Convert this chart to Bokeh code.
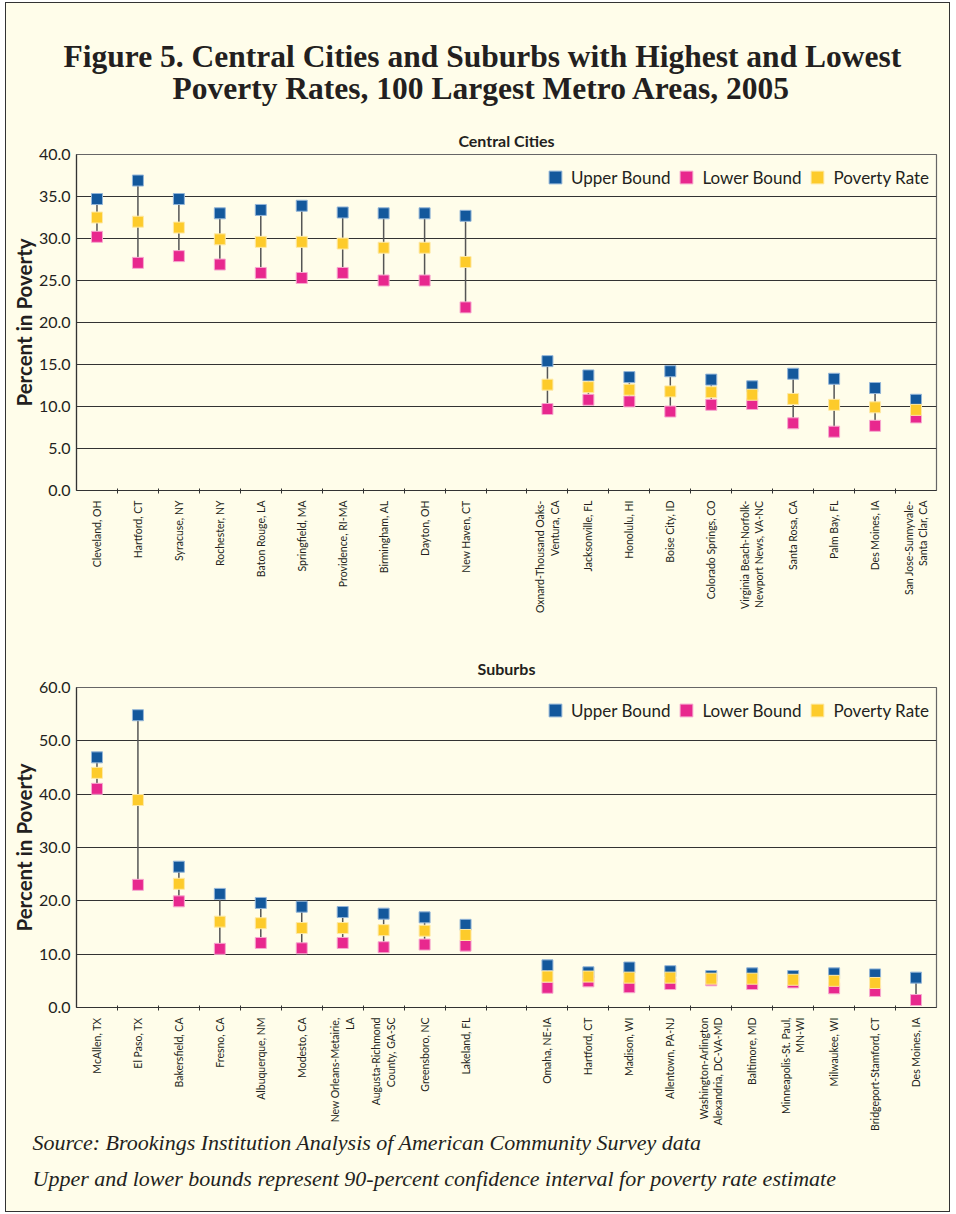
import math
import numpy as np
from bokeh.plotting import figure
from bokeh.models import (Range1d, FixedTicker, SingleIntervalTicker, NumeralTickFormatter,
                          ColumnDataSource, Legend, LegendItem, Title)
from bokeh.layouts import column
from bokeh.embed import file_html
from bokeh.resources import INLINE

# ---------------- data ----------------
TITLE_LINES = ["Figure 5. Central Cities and Suburbs with Highest and Lowest",
               "Poverty Rates, 100 Largest Metro Areas, 2005"]
FOOTNOTES = ["Source: Brookings Institution Analysis of American Community Survey data",
             "Upper and lower bounds represent 90-percent confidence interval for poverty rate estimate"]
SERIES = ["Upper Bound", "Lower Bound", "Poverty Rate"]
Y_LABEL = "Percent in Poverty"

CC_TITLE = "Central Cities"
CC_NAMES = ["Cleveland, OH", "Hartford, CT", "Syracuse, NY", "Rochester, NY", "Baton Rouge, LA",
            "Springfield, MA", "Providence, RI-MA", "Birmingham, AL", "Dayton, OH", "New Haven, CT",
            "Oxnard-Thousand Oaks-\nVentura, CA", "Jacksonville, FL", "Honolulu, HI", "Boise City, ID",
            "Colorado Springs, CO", "Virginia Beach-Norfolk-\nNewport News, VA-NC", "Santa Rosa, CA",
            "Palm Bay, FL", "Des Moines, IA", "San Jose-Sunnyvale-\nSanta Clar, CA"]
CC_UPPER = [34.7, 36.9, 34.7, 33.0, 33.4, 33.9, 33.1, 33.0, 33.0, 32.7,
            15.4, 13.7, 13.5, 14.2, 13.2, 12.4, 13.9, 13.3, 12.2, 10.8]
CC_LOWER = [30.2, 27.1, 27.9, 26.9, 25.9, 25.3, 25.9, 25.0, 25.0, 21.8,
            9.7, 10.8, 10.6, 9.4, 10.2, 10.3, 8.0, 7.0, 7.7, 8.7]
CC_RATE = [32.5, 32.0, 31.3, 29.9, 29.6, 29.6, 29.4, 28.9, 28.9, 27.2,
           12.6, 12.3, 12.0, 11.8, 11.7, 11.4, 10.9, 10.2, 9.9, 9.6]

SB_TITLE = "Suburbs"
SB_NAMES = ["McAllen, TX", "El Paso, TX", "Bakersfield, CA", "Fresno, CA", "Albuquerque, NM",
            "Modesto, CA", "New Orleans-Metairie,\nLA", "Augusta-Richmond\nCounty, GA-SC",
            "Greensboro, NC", "Lakeland, FL", "Omaha, NE-IA", "Hartford, CT", "Madison, WI",
            "Allentown, PA-NJ", "Washington-Arlington\nAlexandria, DC-VA-MD", "Baltimore, MD",
            "Minneapolis-St. Paul,\nMN-WI", "Milwaukee, WI", "Bridgeport-Stamford, CT", "Des Moines, IA"]
SB_UPPER = [46.9, 54.8, 26.4, 21.3, 19.6, 18.9, 17.9, 17.6, 16.9, 15.5,
            7.9, 6.6, 7.5, 6.8, 5.9, 6.4, 5.9, 6.4, 6.2, 5.6]
SB_LOWER = [41.0, 23.0, 19.9, 11.0, 12.1, 11.1, 12.1, 11.3, 11.8, 11.6,
            3.7, 4.9, 3.8, 4.4, 5.1, 4.4, 4.7, 3.6, 3.1, 1.4]
SB_RATE = [44.0, 38.9, 23.2, 16.1, 15.8, 14.9, 14.9, 14.5, 14.4, 13.6,
           5.8, 5.8, 5.6, 5.6, 5.4, 5.4, 5.2, 5.0, 4.6, np.nan]

# ---------------- style ----------------
CREAM = "#FFFDEA"
INK = "#231F20"
BLUE, BLUE_EDGE = "#13589C", "#93B5D8"
PINK, PINK_EDGE = "#E8288E", "#F6A9CF"
YELLOW, YELLOW_EDGE = "#FDCB2B", "#FEE9A6"
SANS = "Lato"
SERIF = "Liberation Serif"

# slot positions: 10 highest, an empty slot, 10 lowest
XS = list(range(10)) + list(range(11, 21))
BOUNDS = [i + 0.5 for i in range(20)]
X0, X1 = -0.5, 20.5

FRAME_W = 860
BORDER_L = 70
BORDER_R = 13


def title(text, size, style, font, align="center", offset=0, standoff=10, valign="bottom", lh=1.0):
    return Title(text=text, text_font=font, text_font_size=size, text_font_style=style,
                 text_color=INK, align=align, offset=offset, standoff=standoff,
                 vertical_align=valign, text_line_height=lh)


def chart(names, upper, lower, rate, ymax, yint, frame_h, b_top, b_bottom):
    src = ColumnDataSource(dict(x=XS, upper=upper, lower=lower, rate=np.array(rate, dtype=float)))
    p = figure(frame_width=FRAME_W, frame_height=frame_h, x_range=Range1d(X0, X1),
               y_range=Range1d(0, ymax), toolbar_location=None, tools="", output_backend="svg",
               min_border_left=BORDER_L, min_border_right=BORDER_R,
               min_border_bottom=b_bottom, min_border_top=b_top)
    p.background_fill_color = CREAM
    p.border_fill_color = CREAM
    p.outline_line_color = "#666666"
    p.outline_line_width = 1.2

    p.segment(x0="x", y0="lower", x1="x", y1="upper", source=src, line_color="#555555", line_width=1.5)
    r_up = p.scatter("x", "upper", source=src, marker="square", size=11,
                     fill_color=BLUE, line_color=BLUE_EDGE, line_width=1)
    r_lo = p.scatter("x", "lower", source=src, marker="square", size=11,
                     fill_color=PINK, line_color=PINK_EDGE, line_width=1)
    r_rt = p.scatter("x", "rate", source=src, marker="square", size=11,
                     fill_color=YELLOW, line_color=YELLOW_EDGE, line_width=1)

    legend = Legend(items=[LegendItem(label=SERIES[0], renderers=[r_up]),
                           LegendItem(label=SERIES[1], renderers=[r_lo]),
                           LegendItem(label=SERIES[2], renderers=[r_rt])],
                    orientation="horizontal", location="top_right",
                    glyph_width=32, glyph_height=32, label_standoff=0, spacing=0,
                    padding=0, margin=7, border_line_color=None, background_fill_alpha=0,
                    label_text_font=SANS, label_text_font_size="17px", label_text_color=INK)
    p.add_layout(legend)

    # y axis
    p.yaxis.ticker = SingleIntervalTicker(interval=yint, num_minor_ticks=0)
    p.yaxis.formatter = NumeralTickFormatter(format="0.0")
    p.yaxis.major_tick_in = 0
    p.yaxis.major_tick_out = 0
    p.yaxis.minor_tick_line_color = None
    p.yaxis.axis_line_color = "#333333"
    p.yaxis.axis_line_width = 1.2
    p.yaxis.major_label_text_font = SANS
    p.yaxis.major_label_text_font_size = "16px"
    p.yaxis.major_label_text_color = INK
    p.yaxis.major_label_standoff = 6
    p.yaxis.axis_label = Y_LABEL
    p.yaxis.axis_label_text_font = SANS
    p.yaxis.axis_label_text_font_size = "20.5px"
    p.yaxis.axis_label_text_font_style = "bold"
    p.yaxis.axis_label_text_color = INK
    p.yaxis.axis_label_standoff = 0
    p.ygrid.grid_line_color = "#333333"
    p.ygrid.grid_line_width = 1.1

    # x axis
    p.xaxis.ticker = FixedTicker(ticks=XS, minor_ticks=BOUNDS)
    p.xaxis.major_label_overrides = {x: n for x, n in zip(XS, names)}
    p.xaxis.major_label_orientation = math.pi / 2
    p.xaxis.major_tick_line_color = None
    p.xaxis.major_tick_in = 0
    p.xaxis.major_tick_out = 0
    p.xaxis.minor_tick_line_color = "#333333"
    p.xaxis.minor_tick_in = 2
    p.xaxis.minor_tick_out = 3
    p.xaxis.axis_line_color = "#333333"
    p.xaxis.axis_line_width = 1.2
    p.xaxis.major_label_text_font = SANS
    p.xaxis.major_label_text_font_size = "10.5px"
    p.xaxis.major_label_text_color = INK
    p.xaxis.major_label_standoff = 7
    p.xgrid.visible = False
    return p


# top chart: frame 154..490 on the page; title panels stack upward from the frame
top = chart(CC_NAMES, CC_UPPER, CC_LOWER, CC_RATE, 40, 5, 336, 151, 157)
top.add_layout(title(CC_TITLE, "16px", "bold", SANS, standoff=9), "above")
top.add_layout(title(" ", "1px", "normal", SANS, standoff=15.5), "above")
top.add_layout(title(TITLE_LINES[1], "31.5px", "bold", SERIF, align="left", offset=96,
                     standoff=0), "above")
top.add_layout(title(TITLE_LINES[0], "31.5px", "bold", SERIF, align="left", offset=-13,
                     standoff=-11.6), "above")

# bottom chart: frame 687..1007 on the page
bot = chart(SB_NAMES, SB_UPPER, SB_LOWER, SB_RATE, 60, 10, 320, 0, 204)
bot.add_layout(title(SB_TITLE, "16px", "bold", SANS, standoff=18.8), "above")
bot.add_layout(title(FOOTNOTES[0], "22px", "italic", SERIF, align="left", offset=-44,
                     standoff=-9.3, valign="middle"), "below")
bot.add_layout(title(FOOTNOTES[1], "22px", "italic", SERIF, align="left", offset=-44,
                     standoff=26.7, valign="middle"), "below")

layout = column(top, bot,
                styles={"border": "1px solid #333333", "background-color": CREAM,
                        "margin-left": "5px", "margin-top": "2px"})

open("out.html", "w").write(file_html(layout, INLINE))
